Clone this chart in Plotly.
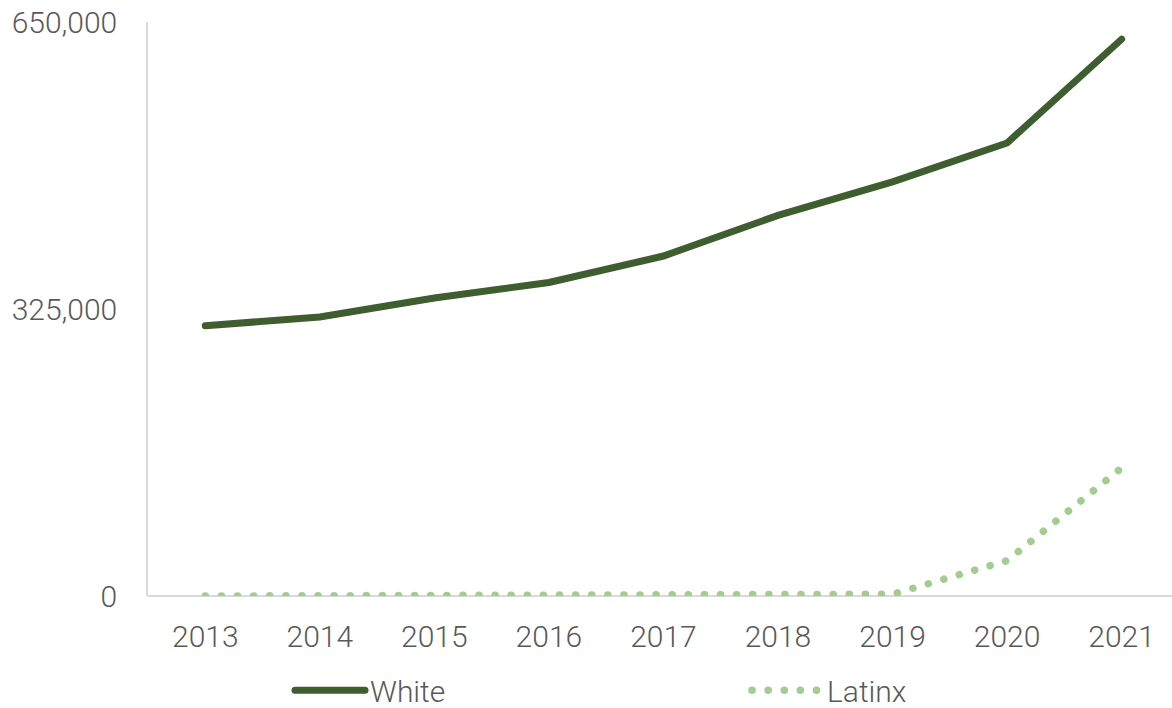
import plotly.graph_objects as go

years = ["2013", "2014", "2015", "2016", "2017", "2018", "2019", "2020", "2021"]
white = [306000, 316000, 337500, 355000, 385000, 431000, 469000, 513000, 630500]
latinx = [0, 0, 0, 0, 0, 0, 2000, 40000, 145000]
y_ticks = [0, 325000, 650000]
y_tick_text = ["0", "325,000", "650,000"]

DARK = "#3e5e30"
LIGHT = "#a3cc8f"
GRAY = "#595959"
FONT = "Roboto"
FS = 30
FW = 300

fig = go.Figure()
fig.add_trace(go.Scatter(x=years, y=white, name="White", mode="lines",
                         line=dict(color=DARK, width=7), legend="legend"))
fig.add_trace(go.Scatter(x=years, y=latinx, name="Latinx", mode="lines",
                         line=dict(color=LIGHT, width=7.5, dash="7px,9px"), legend="legend2"))

font = dict(family=FONT, size=FS, color=GRAY, weight=FW)
leg_common = dict(orientation="h", yanchor="middle", y=-0.164, xanchor="left",
                  font=font, itemwidth=70, bgcolor="rgba(0,0,0,0)", borderwidth=0)

fig.update_layout(
    width=1172, height=708,
    margin=dict(l=148, r=0, t=22, b=112, autoexpand=False),
    paper_bgcolor="white", plot_bgcolor="white",
    font=font,
    showlegend=True,
    legend=dict(x=(290 - 148) / 1024, **leg_common),
    legend2=dict(x=(747 - 148) / 1024, **leg_common),
    xaxis=dict(type="category", range=[-0.5, 8.44], showgrid=False, automargin=False,
               showline=False, zeroline=False, ticks="", ticklabelstandoff=20,
               tickfont=font),
    yaxis=dict(range=[0, 650000], tickvals=y_ticks, ticktext=y_tick_text, automargin=False,
               showgrid=False, zeroline=True, zerolinecolor="#d9d9d9", zerolinewidth=1.5,
               showline=True, linecolor="#d9d9d9", linewidth=1.5,
               ticks="", ticklabelstandoff=23,
               tickfont=font),
)

post = """
document.body.style.margin = '0';
document.body.style.overflow = 'hidden';
var paths = document.querySelectorAll('.js-line');
paths.forEach(function(p){
  p.style.strokeLinecap = 'round';
  var da = p.style.strokeDasharray;
  if (da && da !== 'none' && da !== '') { p.style.strokeDasharray = '0.1px, 16px'; }
});
"""
fig.write_html("out.html", post_script=post, config={"displayModeBar": False})
